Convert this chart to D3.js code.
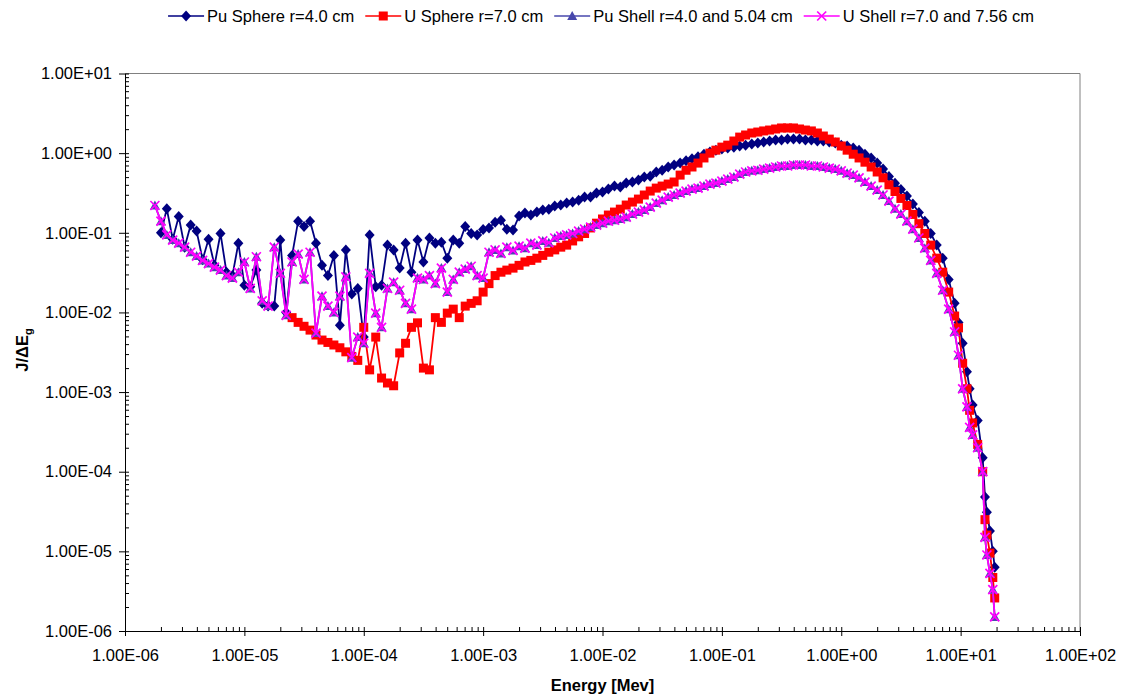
<!DOCTYPE html>
<html>
<head>
<meta charset="utf-8">
<script src="https://cdn.jsdelivr.net/npm/d3@7"></script>
<style>
  body { margin: 0; background: #fff; }
  svg { display: block; font-family: "Liberation Sans", Arial, sans-serif; }
</style>
</head>
<body>
<div class="view"></div>
<script>
// energy groups [MeV]
const energy = [
  1.78e-6, 2.0e-6, 2.24e-6, 2.51e-6, 2.82e-6, 3.16e-6, 3.55e-6, 3.98e-6, 4.47e-6, 5.01e-6, 5.62e-6, 6.31e-6, 7.08e-6, 7.94e-6, 8.91e-6,
  1.0e-5, 1.12e-5, 1.26e-5, 1.41e-5, 1.58e-5, 1.78e-5, 2.0e-5, 2.24e-5, 2.51e-5, 2.82e-5, 3.16e-5, 3.55e-5, 3.98e-5, 4.47e-5, 5.01e-5, 5.62e-5, 6.31e-5, 7.08e-5, 7.94e-5, 8.91e-5,
  1.0e-4, 1.12e-4, 1.26e-4, 1.41e-4, 1.58e-4, 1.78e-4, 2.0e-4, 2.24e-4, 2.51e-4, 2.82e-4, 3.16e-4, 3.55e-4, 3.98e-4, 4.47e-4, 5.01e-4, 5.62e-4, 6.31e-4, 7.08e-4, 7.94e-4, 8.91e-4,
  1.0e-3, 1.12e-3, 1.26e-3, 1.41e-3, 1.58e-3, 1.78e-3, 2.0e-3, 2.24e-3, 2.51e-3, 2.82e-3, 3.16e-3, 3.55e-3, 3.98e-3, 4.47e-3, 5.01e-3, 5.62e-3, 6.31e-3, 7.08e-3, 7.94e-3, 8.91e-3,
  1.0e-2, 1.12e-2, 1.26e-2, 1.41e-2, 1.58e-2, 1.78e-2, 2.0e-2, 2.24e-2, 2.51e-2, 2.82e-2, 3.16e-2, 3.55e-2, 3.98e-2, 4.47e-2, 5.01e-2, 5.62e-2, 6.31e-2, 7.08e-2, 7.94e-2, 8.91e-2,
  0.1, 0.112, 0.126, 0.141, 0.158, 0.178, 0.2, 0.224, 0.251, 0.282, 0.316, 0.355, 0.398, 0.447, 0.501, 0.562, 0.631, 0.708, 0.794, 0.891,
  1.0, 1.12, 1.26, 1.41, 1.58, 1.78, 2.0, 2.24, 2.51, 2.82, 3.16, 3.55, 3.98, 4.47, 5.01, 5.62, 6.31, 7.08, 7.94, 8.91,
  9.6, 10.4, 11.3, 11.9, 12.6, 13.9, 15.3, 16.0, 16.6, 17.6, 18.6, 19.3
]

const puSphere = [
  null, 0.10, 0.20, 0.083, 0.16, 0.066, 0.125, 0.105, 0.046, 0.083, 0.039, 0.098, 0.032, 0.029, 0.074,
  0.022, 0.021, 0.034, 0.013, 0.012, 0.012, 0.081, 0.010, 0.052, 0.14, 0.12, 0.14, 0.074, 0.039, 0.029, 0.052, 0.0069, 0.061, 0.017, 0.020,
  0.0049, 0.094, 0.021, 0.022, 0.070, 0.061, 0.036, 0.074, 0.032, 0.081, 0.043, 0.086, 0.074, 0.076, 0.048, 0.081, 0.074, 0.12, 0.098, 0.094,
  0.11, 0.115, 0.136, 0.144, 0.111, 0.108, 0.162, 0.177, 0.167, 0.182, 0.193, 0.198, 0.217, 0.224, 0.236, 0.243, 0.257, 0.281, 0.281, 0.315,
  0.325, 0.354, 0.386, 0.376, 0.421, 0.433, 0.46, 0.50, 0.514, 0.58, 0.61, 0.67, 0.71, 0.75, 0.80, 0.85, 0.90, 0.97, 1.03, 1.09,
  1.13, 1.16, 1.19, 1.23, 1.26, 1.30, 1.34, 1.38, 1.42, 1.46, 1.46, 1.50, 1.50, 1.50, 1.46, 1.46, 1.42, 1.42, 1.38, 1.34,
  1.26, 1.23, 1.16, 1.09, 0.97, 0.87, 0.75, 0.63, 0.51, 0.42, 0.35, 0.29, 0.23, 0.18, 0.14, 0.098, 0.070, 0.048, 0.026, 0.013,
  0.0075, 0.0041, 0.0018, 0.0011, 6.9e-4, 4.4e-4, 1.5e-4, 4.8e-5, 3.1e-5, 1.8e-5, 1.0e-5, 6.3e-6
]

const uSphere = [
  null, null, null, null, null, null, null, null, null, null, null, null, null, null, null,
  null, null, null, null, null, null, null, null, 0.0086, 0.0075, 0.0067, 0.0060, 0.0052, 0.0045, 0.0042, 0.0039, 0.0036, 0.0032, 0.0028, 0.0025,
  0.0065, 0.0019, 0.0049, 0.0015, 0.0013, 0.0012, 0.0031, 0.0041, 0.0065, 0.0074, 0.0020, 0.0019, 0.0086, 0.0075, 0.0098, 0.011, 0.0086, 0.012, 0.013, 0.014,
  0.018, 0.023, 0.029, 0.032, 0.034, 0.036, 0.039, 0.043, 0.045, 0.048, 0.052, 0.057, 0.061, 0.066, 0.070, 0.079, 0.089, 0.098, 0.115, 0.132,
  0.149, 0.167, 0.182, 0.198, 0.223, 0.243, 0.265, 0.298, 0.334, 0.364, 0.386, 0.409, 0.434, 0.53, 0.61, 0.67, 0.75, 0.87, 1.0, 1.09,
  1.19, 1.26, 1.42, 1.59, 1.69, 1.79, 1.84, 1.90, 1.95, 2.01, 2.07, 2.07, 2.07, 2.01, 1.95, 1.90, 1.79, 1.64, 1.50, 1.38,
  1.23, 1.09, 0.97, 0.87, 0.77, 0.67, 0.58, 0.49, 0.40, 0.33, 0.27, 0.22, 0.17, 0.13, 0.098, 0.070, 0.048, 0.032, 0.018, 0.0090,
  0.0064, 0.0023, 0.0011, 5.9e-4, 4.1e-4, 2.2e-4, 1.0e-4, 2.5e-5, 1.6e-5, 9.5e-6, 4.7e-6, 2.6e-6
]

const puShell = [
  0.22, 0.14, 0.094, 0.081, 0.074, 0.066, 0.057, 0.051, 0.045, 0.041, 0.037, 0.034, 0.029, 0.027, 0.032,
  0.043, 0.020, 0.050, 0.014, 0.012, 0.066, 0.031, 0.0092, 0.043, 0.054, 0.026, 0.057, 0.0055, 0.016, 0.012, 0.010, 0.016, 0.028, 0.0027, 0.0049,
  0.0041, 0.031, 0.0098, 0.0065, 0.020, 0.024, 0.019, 0.013, 0.011, 0.027, 0.026, 0.029, 0.023, 0.036, 0.018, 0.026, 0.032, 0.035, 0.038, 0.029,
  0.027, 0.057, 0.061, 0.055, 0.066, 0.060, 0.068, 0.064, 0.074, 0.070, 0.079, 0.075, 0.086, 0.091, 0.094, 0.098, 0.105, 0.111, 0.118, 0.125,
  0.132, 0.140, 0.144, 0.149, 0.157, 0.172, 0.182, 0.193, 0.21, 0.236, 0.257, 0.281, 0.298, 0.315, 0.334, 0.354, 0.364, 0.386, 0.409, 0.421,
  0.446, 0.473, 0.50, 0.546, 0.58, 0.60, 0.61, 0.63, 0.65, 0.67, 0.69, 0.69, 0.71, 0.71, 0.71, 0.69, 0.69, 0.67, 0.65, 0.63,
  0.60, 0.56, 0.53, 0.49, 0.433, 0.386, 0.344, 0.298, 0.25, 0.20, 0.172, 0.140, 0.111, 0.086, 0.064, 0.045, 0.031, 0.019, 0.011, 0.0057,
  0.0029, 0.0011, 6.5e-4, 3.6e-4, 2.9e-4, 2.0e-4, 1.0e-4, 1.5e-5, 9.0e-6, 5.3e-6, 3.3e-6, 1.5e-6
]

const uShell = [
  0.22, 0.14, 0.094, 0.081, 0.074, 0.066, 0.057, 0.051, 0.045, 0.041, 0.037, 0.034, 0.029, 0.027, 0.032,
  0.043, 0.020, 0.050, 0.014, 0.012, 0.066, 0.031, 0.0092, 0.043, 0.054, 0.026, 0.057, 0.0055, 0.016, 0.012, 0.010, 0.016, 0.028, 0.0027, 0.0049,
  0.0041, 0.031, 0.0098, 0.0065, 0.020, 0.024, 0.019, 0.013, 0.011, 0.027, 0.026, 0.029, 0.023, 0.036, 0.018, 0.026, 0.032, 0.035, 0.038, 0.029,
  0.027, 0.057, 0.061, 0.055, 0.066, 0.060, 0.068, 0.064, 0.074, 0.070, 0.079, 0.075, 0.086, 0.091, 0.094, 0.098, 0.105, 0.111, 0.118, 0.125,
  0.132, 0.140, 0.144, 0.149, 0.157, 0.172, 0.182, 0.193, 0.21, 0.236, 0.257, 0.281, 0.298, 0.315, 0.334, 0.354, 0.364, 0.386, 0.409, 0.421,
  0.446, 0.473, 0.50, 0.546, 0.58, 0.60, 0.61, 0.63, 0.65, 0.67, 0.69, 0.69, 0.71, 0.71, 0.71, 0.69, 0.69, 0.67, 0.65, 0.63,
  0.60, 0.56, 0.53, 0.49, 0.433, 0.386, 0.344, 0.298, 0.25, 0.20, 0.172, 0.140, 0.111, 0.086, 0.064, 0.045, 0.031, 0.019, 0.011, 0.0057,
  0.0029, 0.0011, 6.5e-4, 3.6e-4, 2.9e-4, 2.0e-4, 1.0e-4, 1.5e-5, 9.0e-6, 5.3e-6, 3.3e-6, 1.5e-6
]

const seriesNames = ['Pu Sphere r=4.0 cm', 'U Sphere r=7.0 cm', 'Pu Shell r=4.0 and 5.04 cm', 'U Shell r=7.0 and 7.56 cm']
const xTickValues = [1e-6, 1e-5, 1e-4, 1e-3, 1e-2, 1e-1, 1e0, 1e1, 1e2]
const yTickValues = [1e-6, 1e-5, 1e-4, 1e-3, 1e-2, 1e-1, 1e0, 1e1]

const w = 1121
const h = 696
const plotLeft = 125, plotRight = 1080, plotTop = 73.5, plotBottom = 631
const fontSize = '16.5px'

const series = [
  { name: seriesNames[0], values: puSphere, color: '#000080', marker: 'diamond' },
  { name: seriesNames[1], values: uSphere, color: '#FF0000', marker: 'square' },
  { name: seriesNames[2], values: puShell, color: '#4848AC', marker: 'triangle' },
  { name: seriesNames[3], values: uShell, color: '#FF00FF', marker: 'cross' }
]

const svg = d3.select('.view')
  .append('svg')
  .attr('width', w)
  .attr('height', h)

const x = d3.scaleLog().domain([1e-6, 1e2]).range([plotLeft, plotRight])
const y = d3.scaleLog().domain([1e-6, 1e1]).range([plotBottom, plotTop])

// 1.00E-06 style labels
function sci(d) {
  const e = Math.round(Math.log10(d))
  return '1.00E' + (e < 0 ? '-' : '+') + String(Math.abs(e)).padStart(2, '0')
}
function isMinor(v) {
  const l = Math.log10(v)
  return Math.abs(l - Math.round(l)) > 1e-6
}

// plot area border (top / right)
svg.append('path')
  .attr('d', `M${plotLeft},${plotTop}H${plotRight}V${plotBottom}`)
  .attr('fill', 'none')
  .attr('stroke', '#808080')
  .attr('stroke-width', 1)

// minor ticks
svg.append('g')
  .attr('transform', `translate(0,${plotBottom})`)
  .call(d3.axisBottom(x).tickValues(x.ticks().filter(isMinor)).tickSize(-4).tickSizeOuter(0).tickFormat(''))
  .call(g => g.select('.domain').remove())
svg.append('g')
  .attr('transform', `translate(${plotLeft},0)`)
  .call(d3.axisLeft(y).tickValues(y.ticks().filter(isMinor)).tickSize(-4).tickSizeOuter(0).tickFormat(''))
  .call(g => g.select('.domain').remove())

// major ticks + labels
const xAxis = svg.append('g')
  .attr('class', 'x-axis')
  .attr('transform', `translate(0,${plotBottom})`)
  .call(d3.axisBottom(x).tickValues(xTickValues).tickSize(5).tickSizeOuter(0).tickPadding(13).tickFormat(sci))
xAxis.selectAll('.tick line').attr('y1', -4)

const yAxis = svg.append('g')
  .attr('class', 'y-axis')
  .attr('transform', `translate(${plotLeft},0)`)
  .call(d3.axisLeft(y).tickValues(yTickValues).tickSize(6).tickSizeOuter(0).tickPadding(7).tickFormat(sci))
yAxis.selectAll('.tick line').attr('x1', 4)

svg.selectAll('.x-axis, .y-axis')
  .attr('font-size', fontSize)
  .attr('font-family', '"Liberation Sans", Arial, sans-serif')
svg.selectAll('.tick text').attr('fill', '#000')
svg.selectAll('.domain, .tick line').attr('stroke', '#000')

// markers
function marker(g, type, color) {
  if (type === 'diamond') {
    g.append('path').attr('d', 'M0,-5.5L5,0L0,5.5L-5,0Z').attr('fill', color)
  } else if (type === 'square') {
    g.append('rect').attr('x', -4.5).attr('y', -4.5).attr('width', 9).attr('height', 9).attr('fill', color)
  } else if (type === 'triangle') {
    g.append('path').attr('d', 'M0,-5L5,4L-5,4Z').attr('fill', color)
  } else {
    g.append('path').attr('d', 'M-4.5,-4.5L4.5,4.5M-4.5,4.5L4.5,-4.5').attr('stroke', color).attr('stroke-width', 1.7)
  }
}

const line = d3.line().x(d => x(d.e)).y(d => y(d.v))

series.forEach(s => {
  const pts = energy.map((e, i) => ({ e: e, v: s.values[i] })).filter(d => d.v != null)
  const g = svg.append('g').attr('class', 'series')
  g.append('path')
    .datum(pts)
    .attr('d', line)
    .attr('fill', 'none')
    .attr('stroke', s.color)
    .attr('stroke-width', 1.8)
  g.selectAll('g')
    .data(pts)
    .enter()
    .append('g')
    .attr('transform', d => `translate(${x(d.e)},${y(d.v)})`)
    .each(function () { marker(d3.select(this), s.marker, s.color) })
})

// legend
const legend = svg.append('g').attr('class', 'legend')
let lx = 0
series.forEach(s => {
  const item = legend.append('g').attr('transform', `translate(${lx},0)`)
  item.append('line').attr('x1', 0).attr('x2', 36).attr('y1', 0).attr('y2', 0)
    .attr('stroke', s.color).attr('stroke-width', 1.5)
  marker(item.append('g').attr('transform', 'translate(18,0)'), s.marker, s.color)
  const t = item.append('text')
    .attr('x', 39)
    .attr('dy', '0.35em')
    .attr('font-size', fontSize)
    .text(s.name)
  lx += 39 + t.node().getComputedTextLength() + 11
})
lx -= 11
legend.attr('transform', `translate(${601 - lx / 2},16)`)

// axis titles
svg.append('text')
  .attr('x', (plotLeft + plotRight) / 2)
  .attr('y', 691)
  .attr('text-anchor', 'middle')
  .attr('font-size', fontSize)
  .attr('font-weight', 'bold')
  .text('Energy [Mev]')

const yl = svg.append('text')
  .attr('transform', 'translate(28,350) rotate(-90)')
  .attr('text-anchor', 'middle')
  .attr('font-size', fontSize)
  .attr('font-weight', 'bold')
yl.append('tspan').text('J/ΔE')
yl.append('tspan').attr('font-size', '11px').attr('dy', '4').text('g')
</script>
</body>
</html>
